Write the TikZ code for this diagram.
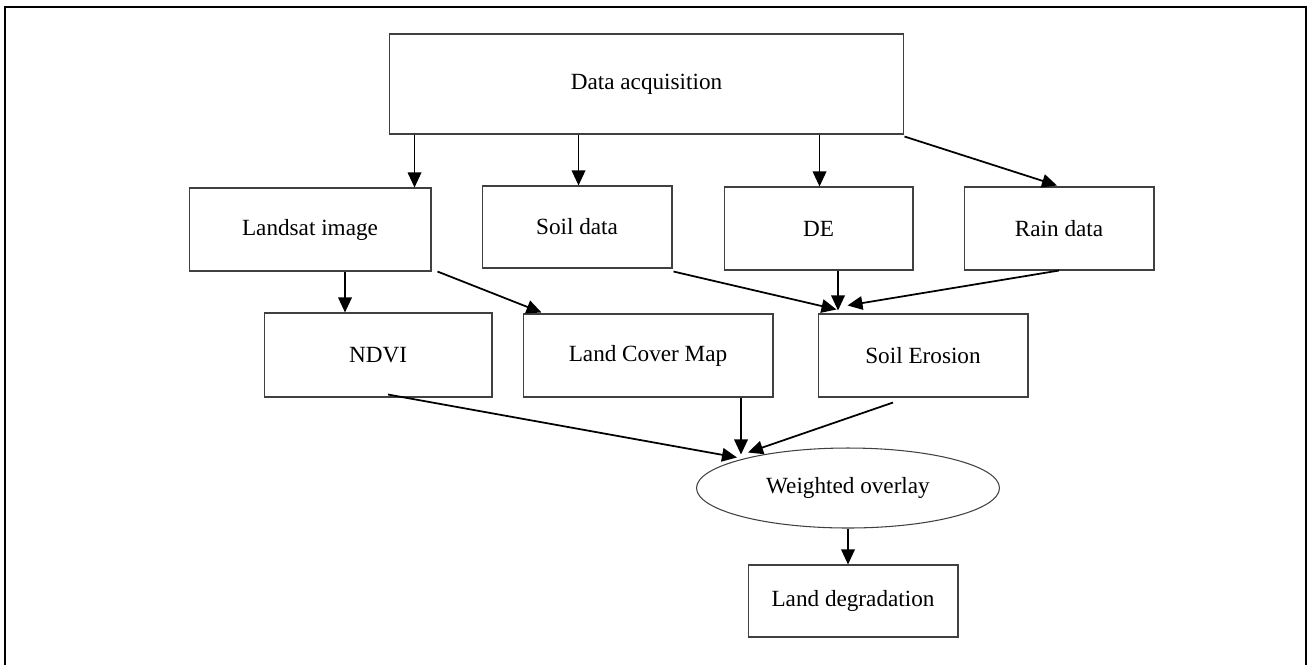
\documentclass[tikz,border=0pt]{standalone}
\usepackage{fontspec}
\setmainfont{Liberation Serif}
\usetikzlibrary{arrows.meta,calc,shapes.geometric}

\tikzset{
  box/.style={draw=black!75, line width=0.6pt, rectangle, inner sep=0pt,
    font=\fontsize{13.2}{15}\selectfont},
  link/.style={-{Triangle[length=0.3cm,width=0.27cm]}, line width=1pt},
}

\begin{document}
\begin{tikzpicture}[x=0.02cm, y=-0.02cm]
			%%%%% FRAME %%%%%
			\useasboundingbox (0,0) rectangle (1307,664);
			\draw[line width=1.2pt] (5,7) rectangle (1306,672);
			
			%%%%% BOXES %%%%%
			\node[box, minimum width=10.3cm, minimum height=2cm] (da) at (646.5,84) {Data acquisition};
			
			\node[box, minimum width=4.84cm, minimum height=1.66cm] (landsat) at (310,229.5) {Landsat image};
			\node[box, minimum width=3.8cm, minimum height=1.64cm] (soil) at (577,227) {Soil data};
			\node[box, minimum width=3.78cm, minimum height=1.66cm] (de) at (818.5,228.5) {DE};
			\node[box, minimum width=3.8cm, minimum height=1.66cm] (rain) at (1059,228.5) {Rain data};
			
			\node[box, minimum width=4.56cm, minimum height=1.68cm] (ndvi) at (378,355) {NDVI};
			\node[box, minimum width=5cm, minimum height=1.66cm] (lcm) at (648,355.5) {Land Cover Map};
			\node[box, minimum width=4.2cm, minimum height=1.66cm] (erosion) at (923,355.5) {Soil Erosion};
			
			\node[box, ellipse, minimum width=6.06cm, minimum height=1.6cm] (overlay) at (848,488) {Weighted overlay};
			\node[box, minimum width=4.2cm, minimum height=1.44cm] (degr) at (853,601) {Land degradation};
			
			%%%%% LINKS %%%%%
			\draw[link] ($(da.south west)+(26,0)$) coordinate (a1) -- (a1 |- landsat.north);
			\draw[link] ($(da.south west)+(190,0)$) coordinate (a2) -- (a2 |- soil.north);
			\draw[link] ($(da.south west)+(431,0)$) coordinate (a3) -- (a3 |- de.north);
			\draw[link] ($(da.south east)+(0,2)$) -- ($(rain.north)+(-2,-1)$);
			
			\draw[link] ($(landsat.south)+(35,0)$) coordinate (b1) -- (b1 |- ndvi.north);
			\draw[link] ($(landsat.south east)+(6,0)$) -- ($(lcm.north west)+(19,-1)$);
			\draw[link] ($(soil.south east)+(1,3)$) -- ($(erosion.north west)+(19,-4)$);
			\draw[link] ($(de.south)+(19.5,0)$) coordinate (b2) -- ($(b2 |- erosion.north)+(0,-3)$);
			\draw[link] (rain.south) -- ($(erosion.north west)+(30,-8)$);
			
			\draw[link] ($(ndvi.south)+(10,-3)$) -- ($(overlay.north)+(-111,10)$);
			\draw[link] ($(lcm.south)+(93,0)$) coordinate (c1) -- ($(c1 |- overlay.north)+(0,7)$);
			\draw[link] ($(erosion.south)+(-30,5)$) -- ($(overlay.north)+(-100,5)$);
			
			\draw[link] (overlay.south) -- (degr.north -| overlay.south);
\end{tikzpicture}
\end{document}
